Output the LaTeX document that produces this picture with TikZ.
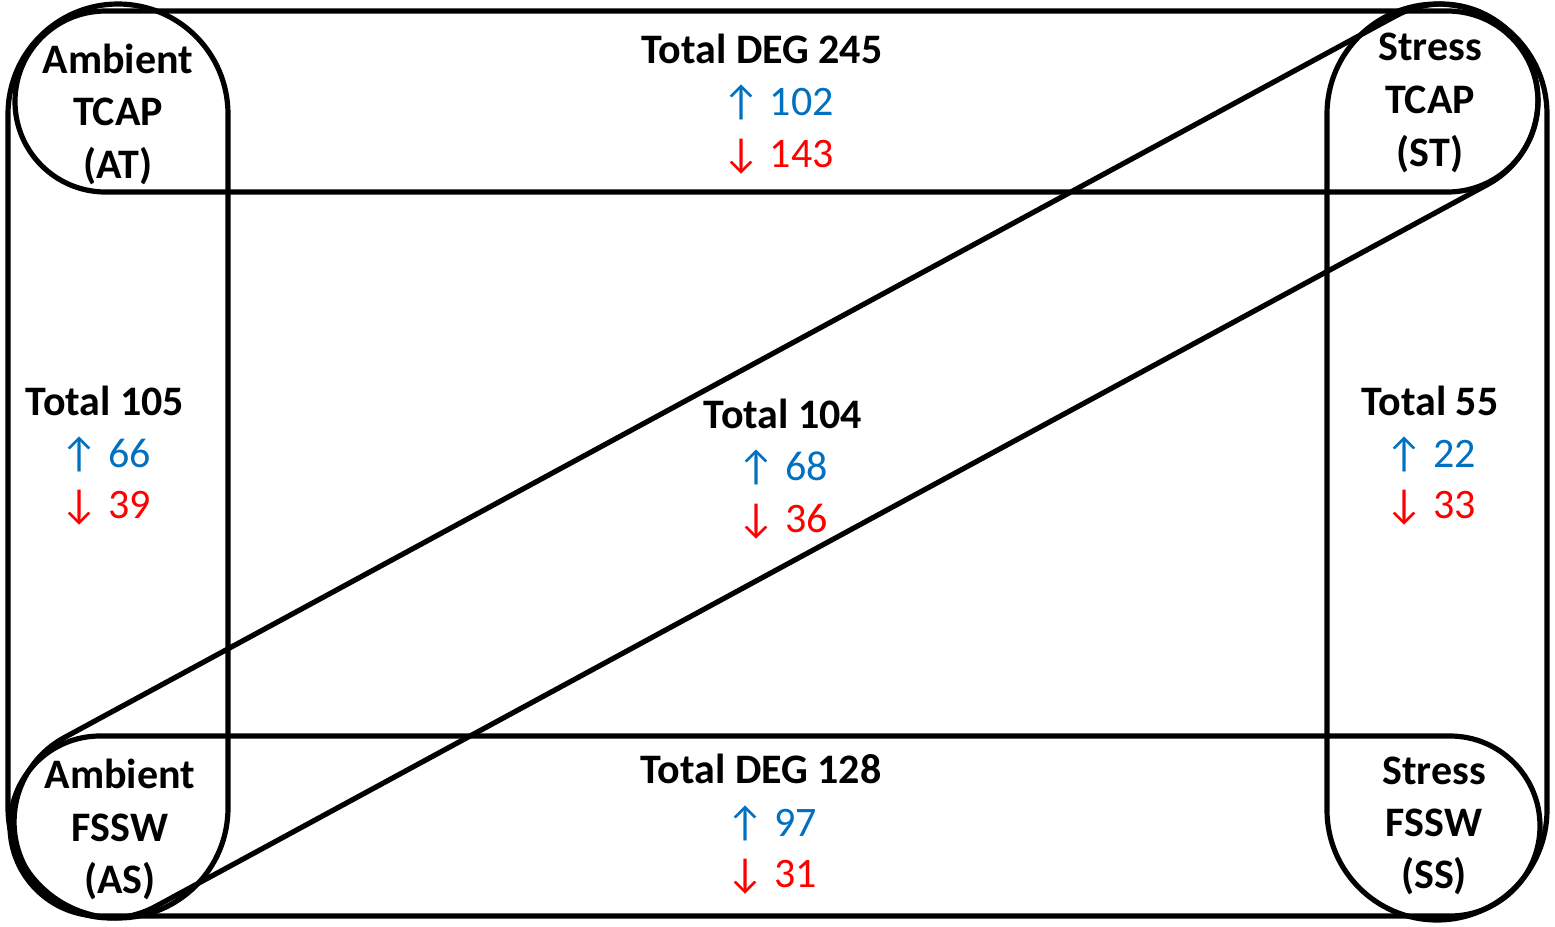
\documentclass[tikz,border=0pt]{standalone}
\usepackage{fontspec}
\setmainfont{Carlito}
\definecolor{ublue}{HTML}{0070C0}
\definecolor{dred}{HTML}{FF0000}
\begin{document}
\begin{tikzpicture}[x=0.5pt,y=-0.5pt,line width=2.5pt,
  capsule/.style={draw=black,line width=2.6pt},
  hdr/.style={font=\fontsize{21}{25}\selectfont\bfseries,anchor=base,inner sep=0pt},
  upn/.style={font=\fontsize{21}{25}\selectfont,anchor=base,inner sep=0pt,text=ublue},
  dnn/.style={font=\fontsize{21}{25}\selectfont,anchor=base,inner sep=0pt,text=dred}]
\useasboundingbox (0,0) rectangle (1555,927);
% capsules
\draw[capsule,rounded corners=45.25pt] (15,11) rectangle (1538,192);
\draw[capsule,rounded corners=55pt] (8,4) rectangle (228,918);
\draw[capsule,rounded corners=55pt] (1327,4) rectangle (1547,920);
\draw[capsule,rounded corners=45pt] (10,736) rectangle (1540,916);
\begin{scope}[shift={(776,461)},rotate=28.46]
\draw[capsule,rounded corners=48pt] (-853.5,-96) rectangle (853.5,96);
\end{scope}
% corner labels
\node[hdr] (at1) at (118,73) {Ambient};
\node[hdr] (at2) at (118,125) {TCAP};
\node[hdr] (at3) at (118,178) {(AT)};
\node[hdr] (st1) at (1430,60) {Stress};
\node[hdr] (st2) at (1430,113) {TCAP};
\node[hdr] (st3) at (1430,166) {(ST)};
\node[hdr] (as1) at (120,788) {Ambient};
\node[hdr] (as2) at (120,841) {FSSW};
\node[hdr] (as3) at (120,893) {(AS)};
\node[hdr] (ss1) at (1434,784) {Stress};
\node[hdr] (ss2) at (1434,836) {FSSW};
\node[hdr] (ss3) at (1434,888) {(SS)};
% totals
\node[hdr] (t1) at (762,63) {Total DEG 245};
\node[upn] (t1u) at (778,115) {↑ 102};
\node[dnn] (t1d) at (778,167) {↓ 143};
\node[hdr] (t2) at (105,415) {Total 105};
\node[upn] (t2u) at (106,467) {↑ 66};
\node[dnn] (t2d) at (106,518) {↓ 39};
\node[hdr] (t3) at (783,428) {Total 104};
\node[upn] (t3u) at (783,480) {↑ 68};
\node[dnn] (t3d) at (783,532) {↓ 36};
\node[hdr] (t4) at (1430,415) {Total 55};
\node[upn] (t4u) at (1431,467) {↑ 22};
\node[dnn] (t4d) at (1431,518) {↓ 33};
\node[hdr] (t5) at (761,783) {Total DEG 128};
\node[upn] (t5u) at (772,836) {↑ 97};
\node[dnn] (t5d) at (772,887) {↓ 31};
\end{tikzpicture}
\end{document}
